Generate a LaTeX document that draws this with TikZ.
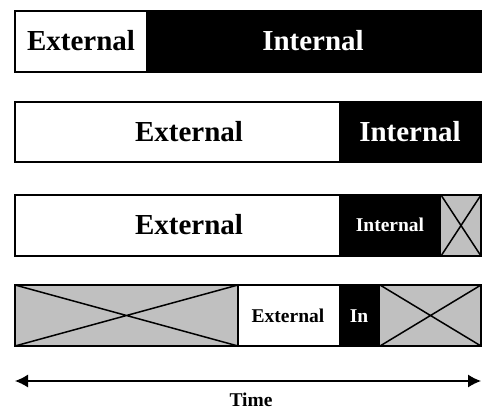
\documentclass[tikz,border=0pt]{standalone}
\usepackage{fontspec}
\setmainfont{Liberation Serif}
\usetikzlibrary{arrows.meta}
\definecolor{idlegray}{RGB}{192,192,192}
\begin{document}
\begin{tikzpicture}[x=1pt, y=-1pt, line width=1.5pt,
  big/.style={font=\fontsize{29}{30}\selectfont\bfseries},
  small/.style={font=\fontsize{19.5}{21}\selectfont\bfseries},
  idle/.style={fill=idlegray}]
\useasboundingbox (0,0) rectangle (485,410);
% Bar 1
\fill (146,11) rectangle (481,72);
\draw (15,11) rectangle (481,72);
\node[big] (ext1) at (81,41) {External};
\node[big, white] (int1) at (313,41) {Internal};
% Bar 2
\fill (339,102) rectangle (481,162);
\draw (15,102) rectangle (481,162);
\node[big] (ext2) at (189,132) {External};
\node[big, white] (int2) at (410,132) {Internal};
% Bar 3
\fill (339,195) rectangle (441,256);
\fill[idle] (441,195) rectangle (481,256);
\draw (441,195) -- (481,256) (441,256) -- (481,195);
\draw (15,195) rectangle (481,256);
\node[big] (ext3) at (189,225) {External};
\node[small, white] (int3) at (390,225) {Internal};
% Bar 4
\fill[idle] (15,285) rectangle (238,346);
\draw (15,285) -- (238,346) (15,346) -- (238,285);
\fill (339,285) rectangle (380,346);
\fill[idle] (380,285) rectangle (481,346);
\draw (380,285) -- (481,346) (380,346) -- (481,285);
\draw (238,285) -- (238,346);
\draw (15,285) rectangle (481,346);
\node[small] (ext4) at (288,316) {External};
\node[small, white] (int4) at (359,316) {In};
% Time axis
\coordinate (t0) at (15,381);
\coordinate (t1) at (481,381);
\draw[line width=1.2pt, {Latex[length=13pt,width=13pt]}-{Latex[length=13pt,width=13pt]}] (t0) -- (t1);
\node[small] (time) at (251,400) {Time};
\end{tikzpicture}
\end{document}
